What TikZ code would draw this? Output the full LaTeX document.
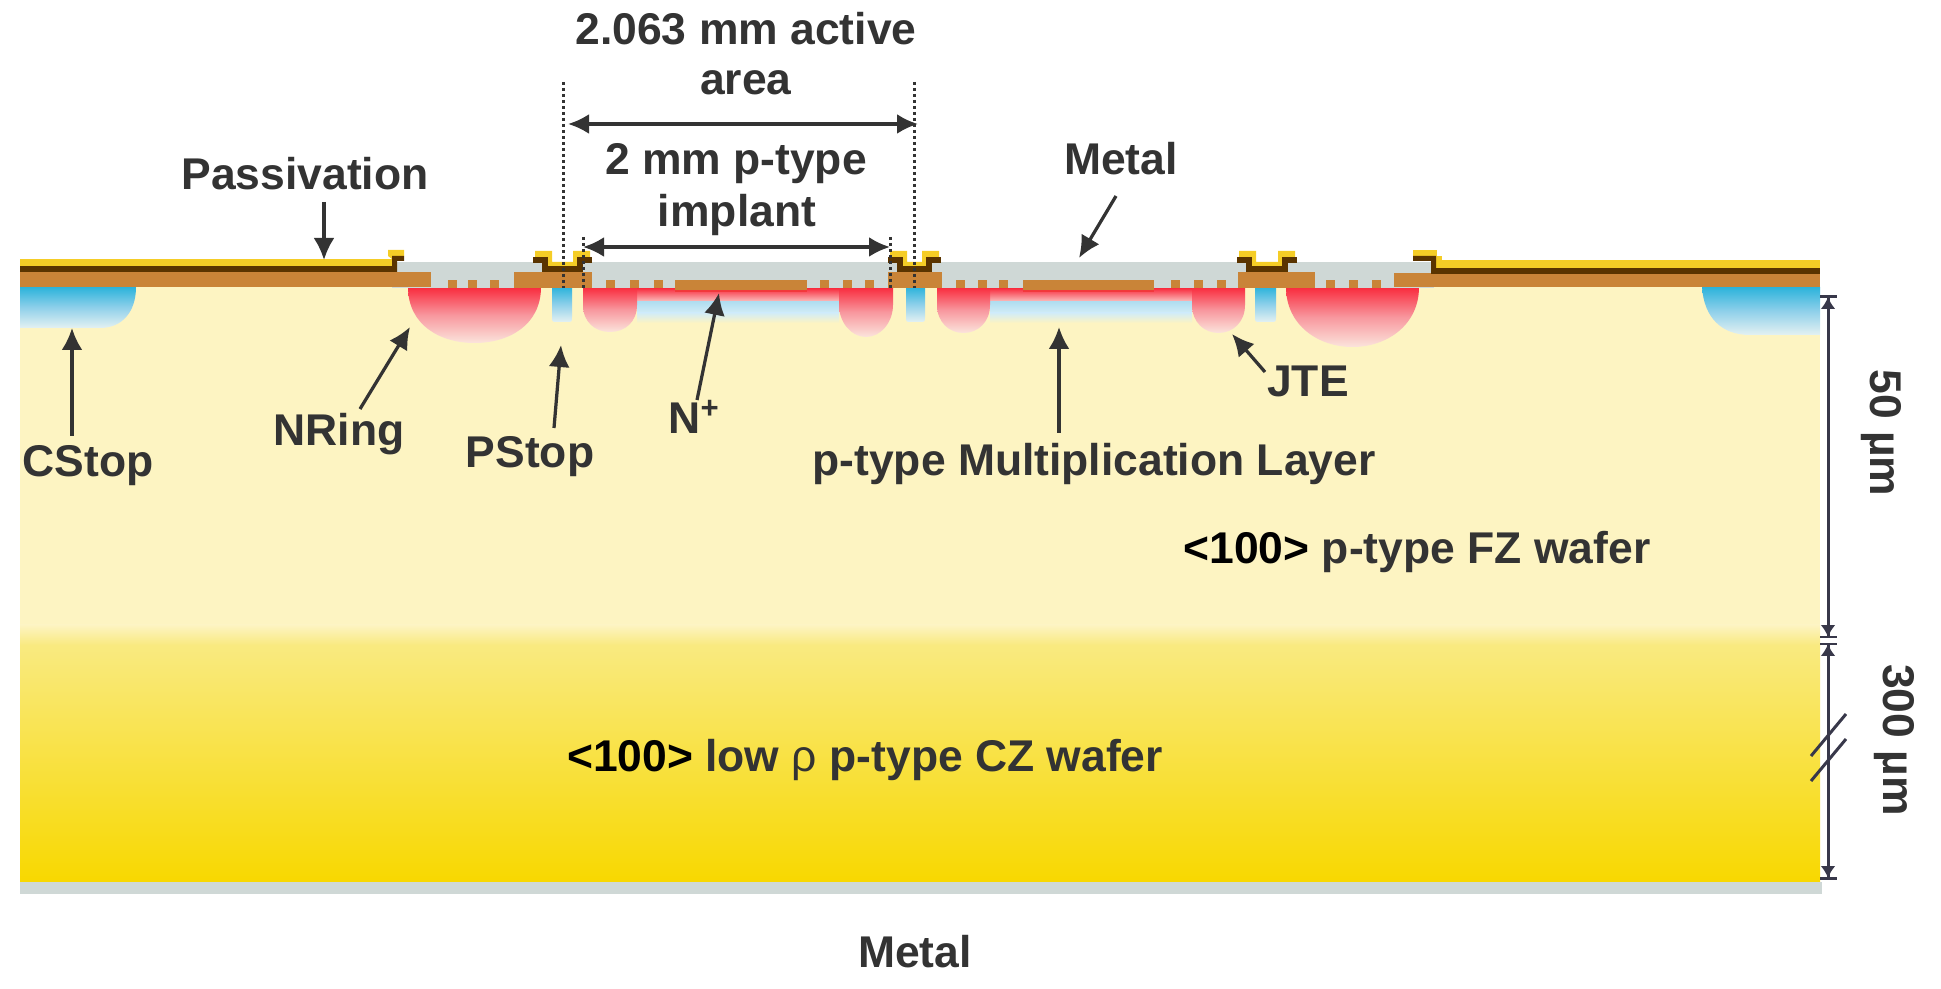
\documentclass[tikz,border=0pt]{standalone}
\usepackage{fontspec}
\setmainfont{Liberation Sans}
\usepackage{tikz}
\usetikzlibrary{arrows.meta}
\definecolor{fzyellow}{HTML}{FDF4C2}
\definecolor{czpale}{HTML}{F9EA80}
\definecolor{czdeep}{HTML}{F8D800}
\definecolor{oxide}{HTML}{C98438}
\definecolor{glass}{HTML}{CFD8D6}
\definecolor{gold}{HTML}{F5CD26}
\definecolor{bronze}{HTML}{5A3400}
\definecolor{nred}{HTML}{F92A3C}
\definecolor{npink}{HTML}{F8979E}
\definecolor{npale}{HTML}{FBE4DC}
\definecolor{pblue}{HTML}{2BB3DB}
\definecolor{pmid}{HTML}{8FD0EA}
\definecolor{ppale}{HTML}{E4F1F2}
\definecolor{ink}{HTML}{333333}
\definecolor{dimink}{HTML}{38384A}
\tikzstyle{tag}=[anchor=base,inner sep=0pt,text=ink,font=\fontsize{25.3}{29}\selectfont\bfseries]
\tikzstyle{pointer}=[-{Latex[length=.44cm,width=.42cm]},line width=.065cm,color=ink]
\tikzstyle{span}=[{Latex[length=.42cm,width=.4cm]}-{Latex[length=.42cm,width=.4cm]},line width=.065cm,color=ink]
\tikzstyle{dim}=[line width=.06cm,color=dimink]
\tikzstyle{dimtip}=[dim,-{Latex[length=.24cm,width=.3cm]}]
\tikzstyle{guide}=[line width=.06cm,dash pattern=on .06cm off .06cm,color=ink]
\tikzstyle{redwell}=[top color=nred,bottom color=npale,middle color=npink]
\tikzstyle{bluewell}=[top color=pblue,bottom color=ppale,middle color=pmid]

\begin{document}
\begin{tikzpicture}[x=.02cm,y=-.02cm]
  \useasboundingbox (0,0) rectangle (1941,989);
  \fill[fzyellow] (20,287) rectangle (1820,625);
  \shade[top color=fzyellow,bottom color=czpale] (20,625) rectangle (1820,645);
  \shade[top color=czpale,bottom color=czdeep] (20,645) rectangle (1820,882);
  \fill[glass] (20,882) rectangle (1822,894);

  \foreach \xa/\xb in {637/839,990/1192} {
    \shade[top color=nred,bottom color=npale!60!npink] (\xa,288) rectangle (\xb,302);
    \shade[top color=pmid!70!white,bottom color=pmid!40!white] (\xa,302) rectangle (\xb,313);
    \shade[top color=pmid!40!white,bottom color=fzyellow] (\xa,313) rectangle (\xb,323);
  }
  \shade[bluewell] (1702,287) .. controls (1704,318) and (1722,335) .. (1750,335) -- (1820,335) -- (1820,287) -- cycle;
  \shade[bluewell] (20,287) -- (136,287) .. controls (136,312) and (122,328) .. (100,328) -- (20,328) -- cycle;
  \foreach \xa/\xb/\yb in {408/541/343,1286/1419/347}
    \shade[redwell] (\xa,287) .. controls (\xa,325) and ({\xa+32},\yb) .. ({(\xa+\xb)/2},\yb)
      .. controls ({\xb-32},\yb) and (\xb,325) .. (\xb,287) -- cycle;
  \foreach \xa/\xb/\yb in {583/637/332,839/893/337,937/990/333,1192/1245/333}
    \shade[redwell] (\xa,287) -- (\xa,305) .. controls (\xa,322) and ({\xa+12},\yb) .. ({(\xa+\xb)/2},\yb)
      .. controls ({\xb-12},\yb) and (\xb,322) .. (\xb,305) -- (\xb,287) -- cycle;
  \foreach \xa/\xb in {552/572,906/925,1255/1276}
    \shade[bluewell] (\xa,287) -- (\xa,317) .. controls (\xa,321) and (\xa,322) .. ({\xa+4},322)
      -- ({\xb-4},322) .. controls (\xb,322) and (\xb,321) .. (\xb,317) -- (\xb,287) -- cycle;

  \fill[glass] (392,262) rectangle (1434,288);
  \fill[nred!85!oxide] (675,288) rectangle (807,292);
  \fill[nred!85!oxide] (1023,288) rectangle (1154,292);
  \foreach \xa/\xb/\ya/\yb in {20/431/272/287,514/592/272/288,675/807/280/290,888/942/272/288,
                               1023/1154/280/290,1238/1315/272/288,1394/1820/273/287}
    \fill[oxide] (\xa,\ya) rectangle (\xb,\yb);
  \foreach \x in {448,468,490,606,630,654,820,843,865,956,978,999,1171,1194,1217,1326,1349,1372}
    \fill[oxide] (\x,280) rectangle ({\x+8.5},288);

  \fill[gold] (20,259) rectangle (392,266);
  \fill[bronze] (20,266) rectangle (392,272);
  \fill[gold] (392,259) -- (388,256) -- (388,250) -- (404,250) -- (404,256) -- (398,256) -- (398,259) -- cycle;
  \fill[bronze] (392,272) -- (392,256) -- (404,256) -- (404,261) -- (397,261) -- (397,272) -- cycle;
  \fill[gold] (1431,260) rectangle (1820,268);
  \fill[bronze] (1431,268) rectangle (1820,274);
  \fill[gold] (1413,250) rectangle (1437,256);
  \fill[gold] (1436,256) rectangle (1442,262);
  \fill[bronze] (1413,256) -- (1436,256) -- (1436,274) -- (1431,274) -- (1431,261) -- (1413,261) -- cycle;
  \foreach \xa/\xb in {533/592,888/941,1237/1297} {
    \fill[gold] ({\xa+2},251) -- ({\xa+19},251) -- ({\xa+19},262) -- ({\xb-19},262) -- ({\xb-19},251)
      -- ({\xb-2},251) -- ({\xb-2},257) -- ({\xb-15},257) -- ({\xb-15},267) -- ({\xa+15},267)
      -- ({\xa+15},257) -- ({\xa+2},257) -- cycle;
    \draw[bronze,line width=.12cm,line join=miter] (\xa,260) -- ({\xa+12},260) -- ({\xa+12},269.5)
      -- ({\xb-12},269.5) -- ({\xb-12},260) -- (\xb,260);
  }

  \foreach \name/\x/\ya/\yb in {active-l/563/82/288,active-r/914/82/288,implant-l/583/237/288,implant-r/890/237/288} {
    \coordinate (\name-top) at (\x,\ya);
    \coordinate (\name-bot) at (\x,\yb);
    \draw[guide] (\name-top) -- (\name-bot);
  }

  \coordinate (active-a) at (568,124);
  \coordinate (active-b) at (918,124);
  \coordinate (implant-a) at (583,247);
  \coordinate (implant-b) at (890,247);
  \draw[span] (active-a) -- (active-b);
  \draw[span] (implant-a) -- (implant-b);

  \foreach \name/\xa/\ya/\xb/\yb in {pass/324/202/324/260, metal/1116/196/1079/258, cstop/72/436/72/328,
                                     nring/360/409/410/327, pstop/554/428/561/345, nplus/697/400/719/293,
                                     mult/1059/433/1059/327, jte/1265/372/1232/334} {
    \coordinate (\name-tail) at (\xa,\ya);
    \coordinate (\name-tip) at (\xb,\yb);
    \draw[pointer] (\name-tail) -- (\name-tip);
  }

  \coordinate (dim-top) at (1828,297);
  \coordinate (dim-mid-a) at (1828,637);
  \coordinate (dim-mid-b) at (1828,644);
  \coordinate (dim-bot) at (1828,878);
  \draw[dimtip] (dim-mid-a) -- (dim-top);
  \draw[dimtip] (dim-top) -- (dim-mid-a);
  \draw[dimtip] (dim-bot) -- (dim-mid-b);
  \draw[dimtip] (dim-mid-b) -- (dim-bot);
  \foreach \y in {297,637,644,878}
    \draw[dim] (1820,\y) -- (1837,\y);
  \foreach \y in {756,781}
    \draw[dim] (1811,\y) -- (1846,{\y-42});

  \foreach \name/\x/\y/\txt in {top-a/746/45/2.063 mm active, top-b/746/95/area, mid-a/736/175/2 mm p-type,
                                mid-b/737/227/implant, passivation/305/190/Passivation, metal-top/1121/175/Metal,
                                cstop/88/477/CStop, nring/339/446/NRing, pstop/530/468/PStop,
                                nplus/694/434/N\textsuperscript{+}, mult/1094/476/p-type Multiplication Layer,
                                jte/1308/397/JTE, fz/1417/564/\textcolor{black}{<100>} p-type FZ wafer,
                                cz/865/771/\textcolor{black}{<100>} low {\normalfont ρ} p-type CZ wafer,
                                metal-bot/915/967/Metal}
    \node[tag] (\name) at (\x,\y) {\txt};
  \node[tag,rotate=-90] (fifty) at (1870,433) {50 µm};
  \node[tag,rotate=-90] (three) at (1883,740) {300 µm};
\end{tikzpicture}
\end{document}
